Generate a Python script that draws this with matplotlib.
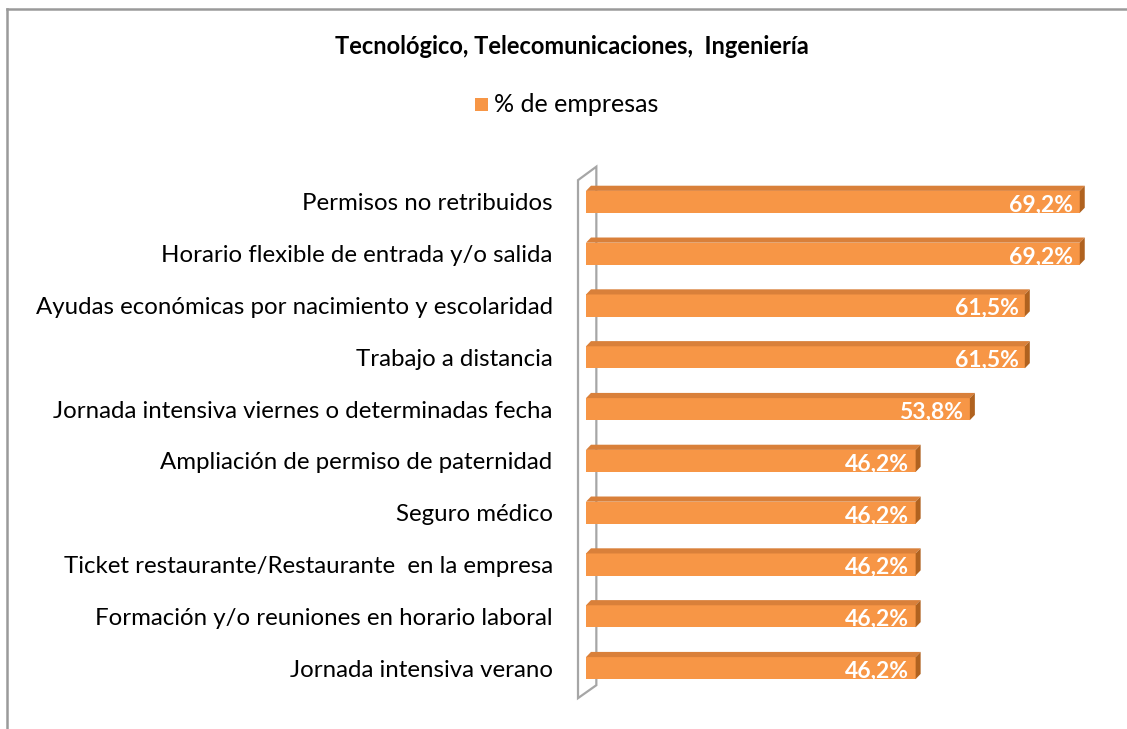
import matplotlib
matplotlib.use('Agg')
import matplotlib.pyplot as plt
from matplotlib.patches import Polygon
from matplotlib.lines import Line2D

categories = [
    'Permisos no retribuidos',
    'Horario flexible de entrada y/o salida',
    'Ayudas económicas por nacimiento y escolaridad',
    'Trabajo a distancia',
    'Jornada intensiva viernes o determinadas fecha',
    'Ampliación de permiso de paternidad',
    'Seguro médico',
    'Ticket restaurante/Restaurante  en la empresa',
    'Formación y/o reuniones en horario laboral',
    'Jornada intensiva verano',
]
values = [69.2, 69.2, 61.5, 61.5, 53.8, 46.2, 46.2, 46.2, 46.2, 46.2]
value_labels = ['69,2%', '69,2%', '61,5%', '61,5%', '53,8%',
                '46,2%', '46,2%', '46,2%', '46,2%', '46,2%']

front = '#f79646'
top_c = '#d9803a'
side_c = '#b0621f'

plt.rcParams['font.family'] = ['Lato', 'DejaVu Sans']

W, H = 1127, 729
fig = plt.figure(figsize=(W / 100, H / 100), dpi=100)
ax = fig.add_axes([586 / W, (H - 694) / H, 528 / W, 518 / H])

# bars from the top row down
ypos = list(range(len(categories) - 1, -1, -1))
bh = 0.425
dx, dy = 0.7, 0.1

# back wall of the 3d chart
wall = Polygon([(-1.12, -0.58), (-1.12, 9.42), (1.45, 9.68), (1.45, -0.33)],
               closed=True, facecolor='white', edgecolor='#a6a6a6', lw=1.6,
               clip_on=False, zorder=1)
ax.add_patch(wall)

ax.barh(ypos, values, height=bh, color=front, zorder=3)
for y, v, lab in zip(ypos, values, value_labels):
    top = Polygon([(0, y + bh / 2), (dx, y + bh / 2 + dy),
                   (v + dx, y + bh / 2 + dy), (v, y + bh / 2)],
                  closed=True, facecolor=top_c, edgecolor='none',
                  clip_on=False, zorder=3)
    side = Polygon([(v, y - bh / 2), (v, y + bh / 2),
                    (v + dx, y + bh / 2 + dy), (v + dx, y - bh / 2 + dy)],
                   closed=True, facecolor=side_c, edgecolor='none',
                   clip_on=False, zorder=3)
    ax.add_patch(top)
    ax.add_patch(side)
    ax.text(v - 0.9, y - 0.06, lab, ha='right', va='center', color='white',
            fontsize=16.5, fontweight='bold', zorder=4)

ax.set_xlim(0, 74)
ax.set_ylim(-0.5, 9.5)
ax.set_yticks(ypos)
ax.set_yticklabels(categories, fontsize=17.3)
ax.tick_params(axis='y', length=0, pad=24)
ax.set_xticks([])
for s in ax.spines.values():
    s.set_visible(False)

fig.text(572 / W, 1 - 46 / H, 'Tecnológico, Telecomunicaciones,  Ingeniería',
         ha='center', va='center', fontsize=17, fontweight='bold')

# legend
fig.patches.append(Polygon([(475 / W, 1 - 98 / H), (488 / W, 1 - 98 / H),
                            (488 / W, 1 - 111 / H), (475 / W, 1 - 111 / H)],
                           closed=True, transform=fig.transFigure,
                           facecolor=front, edgecolor='none'))
fig.text(494 / W, 1 - 104 / H, '% de empresas', ha='left', va='center',
         fontsize=18)

# outer frame (top and left edge)
fig.add_artist(Line2D([7 / W, 1], [1 - 9 / H, 1 - 9 / H], color='#9a9a9a', lw=1.8))
fig.add_artist(Line2D([7 / W, 7 / W], [0, 1 - 9 / H], color='#9a9a9a', lw=1.8))

fig.savefig('out.png', dpi=100)
